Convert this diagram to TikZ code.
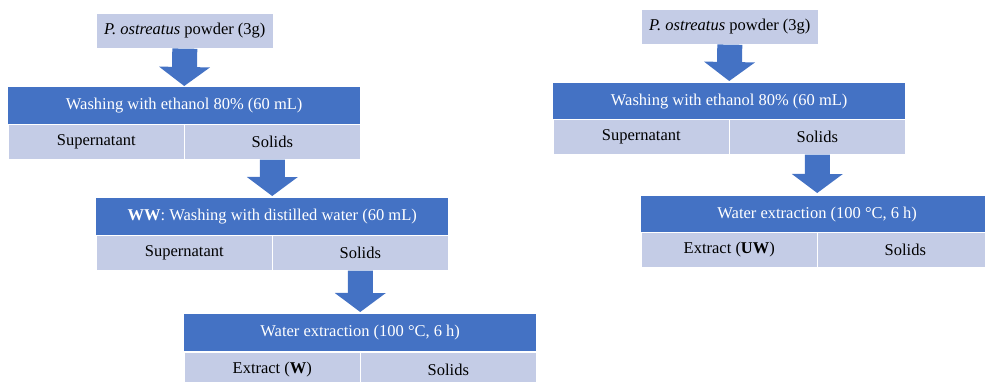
\documentclass[tikz,border=0pt]{standalone}
\usepackage{fontspec}
\setmainfont{Liberation Serif}
\usetikzlibrary{arrows.meta}
\definecolor{headblue}{RGB}{68,114,196}
\definecolor{celllight}{RGB}{196,204,230}

\begin{document}
\begin{tikzpicture}[x=1pt, y=-1pt, font=\fontsize{16.5}{19}\selectfont,
    header/.style={fill=headblue, text=white, minimum width=352pt, minimum height=37pt, inner sep=0pt, anchor=north west},
    cell/.style={fill=celllight, draw=white, line width=0.6pt, minimum width=176pt, minimum height=35pt, inner sep=0pt, anchor=north west},
    blockarrow/.style={draw=headblue, line width=25pt, -{Triangle[length=19pt, width=51pt, line width=0pt]}}]

        \useasboundingbox (0,0) rectangle (985,381);

        % --- Left: with distilled water washing ---
        \begin{scope}[shift={(0,0)}]
            % Starting material
            \node[cell, minimum width=177pt] (P) at (96,13) {\textit{P. ostreatus} powder (3g)};

            % Ethanol wash
            \node[header] (E) at (8,87) {Washing with ethanol 80\% (60 mL)};
            \node[cell] (Ea) at (8,124) {Supernatant};
            \node[cell] (Eb) at (184,124) {Solids};

            % Water wash
            \node[header] (D) at (96,198) {\textbf{WW}: Washing with distilled water (60 mL)};
            \node[cell] (Da) at (96,235) {Supernatant};
            \node[cell] (Db) at (272,235) {Solids};

            % Extraction
            \node[header] (X) at (184,314) {Water extraction (100 °C, 6 h)};
            \node[cell] (Xa) at (184,352) {Extract (\textbf{W})};
            \node[cell] (Xb) at (360,352) {Solids};

            % Arrows
            \draw[blockarrow, shorten >=1pt] (P.south) -- (E.north);
            \draw[blockarrow, shorten >=2pt] (Eb.south) -- (D.north);
            \draw[blockarrow, shorten >=2pt] (Db.south) -- (X.north);
        \end{scope}

        % --- Right: without water washing ---
        \begin{scope}[shift={(545,-4)}]
            \node[cell, minimum width=177pt] (P2) at (96,13) {\textit{P. ostreatus} powder (3g)};

            \node[header] (E2) at (8,87) {Washing with ethanol 80\% (60 mL)};
            \node[cell] (Ea2) at (8,123) {Supernatant};
            \node[cell] (Eb2) at (184,123) {Solids};

            \node[header] (X2) at (96,200) {Water extraction (100 °C, 6 h)};
            \node[cell] (Xa2) at (96,236) {Extract (\textbf{UW})};
            \node[cell] (Xb2) at (272,236) {Solids};

            \draw[blockarrow, shorten >=2pt] (P2.south) -- (E2.north);
            \draw[blockarrow, shorten >=3pt] (Eb2.south) -- (X2.north);
        \end{scope}

    \end{tikzpicture}
\end{document}
